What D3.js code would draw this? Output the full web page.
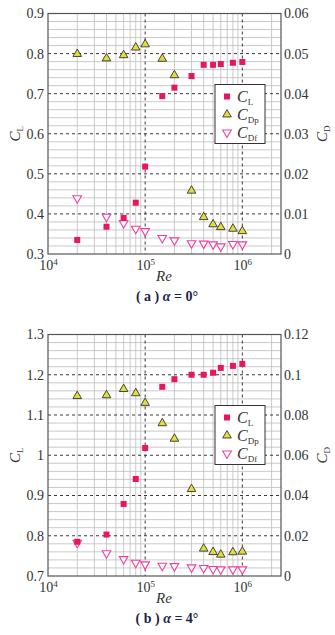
<!DOCTYPE html>
<html>
<head>
<meta charset="utf-8">
<script src="https://cdn.jsdelivr.net/npm/d3@7"></script>
<style>
body { margin: 0; background: #fff; }
svg text { font-family: "Liberation Serif", "Times New Roman", Times, serif !important; }
</style>
</head>
<body>
<div id="chart"></div>
<script>
// Reynolds numbers (shared by both panels)
const reValues = [2e4, 4e4, 6e4, 8e4, 1e5, 1.5e5, 2e5, 3e5, 4e5, 5e5, 6e5, 8e5, 1e6];

// (a) alpha = 0
const clA  = [0.335, 0.368, 0.390, 0.428, 0.518, 0.694, 0.715, 0.744, 0.772, 0.772, 0.774, 0.777, 0.779];
const cdpA = [0.0499, 0.0488, 0.0496, 0.0515, 0.0523, 0.0487, 0.0446, 0.0158, 0.0092, 0.0074, 0.0067, 0.0063, 0.0057];
const cdfA = [0.0139, 0.0093, 0.0077, 0.0063, 0.0057, 0.0040, 0.0034, 0.0027, 0.0026, 0.0024, 0.0019, 0.0025, 0.0024];

// (b) alpha = 4
const clB  = [0.785, 0.803, 0.879, 0.941, 1.018, 1.170, 1.189, 1.200, 1.200, 1.205, 1.217, 1.222, 1.227];
const cdpB = [0.0894, 0.0898, 0.0929, 0.0908, 0.0860, 0.0759, 0.0682, 0.0432, 0.0136, 0.0119, 0.0106, 0.0118, 0.0121];
const cdfB = [0.0165, 0.0113, 0.0084, 0.0066, 0.0058, 0.0051, 0.0049, 0.0043, 0.0040, 0.0035, 0.0033, 0.0033, 0.0033];

// axis ticks
const clTicksA = [0.3, 0.4, 0.5, 0.6, 0.7, 0.8, 0.9];
const cdTicksA = [0, 0.01, 0.02, 0.03, 0.04, 0.05, 0.06];
const clTicksB = [0.7, 0.8, 0.9, 1.0, 1.1, 1.2, 1.3];
const cdTicksB = [0, 0.02, 0.04, 0.06, 0.08, 0.1, 0.12];
const reTicks  = [1e4, 1e5, 1e6];

const colors = { cl: '#e8175d', cdpFill: '#e3dc3a', cdpStroke: '#333', cdf: '#ef3f9c', caption: '#1d2545' };

const width = 335, height = 635;
const svg = d3.select('#chart').append('svg')
    .attr('width', width)
    .attr('height', height);

const x = d3.scaleLog().domain([1e4, 2.5e6]).range([48, 281]);

//Draw one panel
function drawPanel(p) {
    const g = svg.append('g');
    const y = d3.scaleLinear().domain(p.clDomain).range([p.bottom, p.top]);
    const y2 = d3.scaleLinear().domain(p.cdDomain).range([p.bottom, p.top]);
    const [x0, x1] = x.range();

    // minor grid
    const minorX = x.ticks().filter(d => !reTicks.includes(d));
    g.selectAll('.mx').data(minorX).join('line')
        .attr('x1', d => x(d)).attr('x2', d => x(d))
        .attr('y1', p.top).attr('y2', p.bottom)
        .attr('stroke', '#bdbdbd').attr('stroke-width', 0.8);
    const minorY = y.ticks(30).filter(d => Math.abs(d * 10 - Math.round(d * 10)) > 1e-6);
    g.selectAll('.my').data(minorY).join('line')
        .attr('x1', x0).attr('x2', x1)
        .attr('y1', d => y(d)).attr('y2', d => y(d))
        .attr('stroke', '#bdbdbd').attr('stroke-width', 0.8);

    // major dashed grid
    g.selectAll('.gx').data(reTicks.slice(1)).join('line')
        .attr('x1', d => x(d)).attr('x2', d => x(d))
        .attr('y1', p.top).attr('y2', p.bottom)
        .attr('stroke', '#222').attr('stroke-width', 0.9).attr('stroke-dasharray', '3,3');
    g.selectAll('.gy').data(p.clTicks.slice(1, -1)).join('line')
        .attr('x1', x0).attr('x2', x1)
        .attr('y1', d => y(d)).attr('y2', d => y(d))
        .attr('stroke', '#222').attr('stroke-width', 0.9).attr('stroke-dasharray', '3,3');

    // frame
    g.append('rect')
        .attr('x', x0).attr('y', p.top)
        .attr('width', x1 - x0).attr('height', p.bottom - p.top)
        .attr('fill', 'none').attr('stroke', '#555').attr('stroke-width', 1.2);

    // axes
    const left = g.append('g').attr('transform', `translate(${x0},0)`)
        .call(d3.axisLeft(y).tickValues(p.clTicks).tickSize(0).tickPadding(4)
            .tickFormat(d => d === 1 ? '1' : d3.format('.1f')(d)));
    const right = g.append('g').attr('transform', `translate(${x1},0)`)
        .call(d3.axisRight(y2).tickValues(p.cdTicks).tickSize(0).tickPadding(3)
            .tickFormat(d => d === 0 ? '0' : String(+d.toFixed(2))));
    const bottom = g.append('g').attr('transform', `translate(0,${p.bottom})`)
        .call(d3.axisBottom(x).tickValues(reTicks).tickSize(0).tickPadding(6).tickFormat(''));
    [left, right, bottom].forEach(a => {
        a.select('.domain').remove();
        a.attr('font-family', null);
        a.selectAll('text').style('font-size', '14px').attr('fill', '#333');
    });
    bottom.selectAll('.tick text').each(function (d) {
        const t = d3.select(this);
        t.append('tspan').text('10');
        t.append('tspan').text(Math.round(Math.log10(d))).attr('dy', -5).style('font-size', '9px');
    });

    // axis titles
    const mid = (p.top + p.bottom) / 2;
    const clT = g.append('text')
        .attr('transform', `translate(20,${mid}) rotate(-90)`)
        .attr('text-anchor', 'middle').attr('fill', '#333').style('font-size', '15px');
    clT.append('tspan').text('C').style('font-style', 'italic');
    clT.append('tspan').text('L').attr('dy', 3).style('font-size', '9px');
    const cdT = g.append('text')
        .attr('transform', `translate(327,${mid}) rotate(-90)`)
        .attr('text-anchor', 'middle').attr('fill', '#333').style('font-size', '15px');
    cdT.append('tspan').text('C').style('font-style', 'italic');
    cdT.append('tspan').text('D').attr('dy', 3).style('font-size', '9px');

    g.append('text')
        .attr('x', 164).attr('y', p.bottom + 27)
        .attr('text-anchor', 'middle').attr('fill', '#333')
        .style('font-size', '15px').style('font-style', 'italic')
        .text('Re');

    // markers
    const tri = d3.symbol().type(d3.symbolTriangle).size(32);
    g.selectAll('.cdf').data(p.cdf).join('path')
        .attr('d', tri)
        .attr('transform', (d, i) => `translate(${x(reValues[i])},${y2(d)}) rotate(180)`)
        .attr('fill', '#fff').attr('stroke', colors.cdf).attr('stroke-width', 1.1);
    g.selectAll('.cdp').data(p.cdp).join('path')
        .attr('d', tri)
        .attr('transform', (d, i) => `translate(${x(reValues[i])},${y2(d)})`)
        .attr('fill', colors.cdpFill).attr('stroke', colors.cdpStroke).attr('stroke-width', 0.9);
    g.selectAll('.cl').data(p.cl).join('rect')
        .attr('x', (d, i) => x(reValues[i]) - 3)
        .attr('y', d => y(d) - 3)
        .attr('width', 6).attr('height', 6)
        .attr('fill', colors.cl);

    // legend
    const lg = g.append('g').attr('transform', `translate(215,${p.top + 71})`);
    lg.append('rect').attr('width', 50).attr('height', 59)
        .attr('fill', '#fff').attr('stroke', '#333').attr('stroke-width', 1);
    const items = [
        { sub: 'L', kind: 'cl' },
        { sub: 'Dp', kind: 'cdp' },
        { sub: 'Df', kind: 'cdf' }
    ];
    items.forEach((it, i) => {
        const cy = 12 + i * 18;
        if (it.kind === 'cl') {
            lg.append('rect').attr('x', 9).attr('y', cy - 3).attr('width', 6).attr('height', 6).attr('fill', colors.cl);
        } else if (it.kind === 'cdp') {
            lg.append('path').attr('d', tri).attr('transform', `translate(12,${cy})`)
                .attr('fill', colors.cdpFill).attr('stroke', colors.cdpStroke).attr('stroke-width', 0.9);
        } else {
            lg.append('path').attr('d', tri).attr('transform', `translate(12,${cy}) rotate(180)`)
                .attr('fill', '#fff').attr('stroke', colors.cdf).attr('stroke-width', 1.1);
        }
        const t = lg.append('text').attr('x', 22).attr('y', cy + 5).attr('fill', '#333').style('font-size', '16px');
        t.append('tspan').text('C').style('font-style', 'italic');
        t.append('tspan').text(it.sub).attr('dy', 3).style('font-size', '9px');
    });

    // caption
    const cap = g.append('text')
        .attr('x', 167).attr('y', p.bottom + 47)
        .attr('text-anchor', 'middle').attr('fill', colors.caption)
        .style('font-size', '14px').style('font-weight', 'bold');
    cap.append('tspan').text('( ' + p.label + ' )  ');
    cap.append('tspan').text('α').style('font-style', 'italic');
    cap.append('tspan').text(' = ' + p.alpha + '°');
}

drawPanel({
    top: 13.5, bottom: 254, clDomain: [0.3, 0.9], cdDomain: [0, 0.06],
    clTicks: clTicksA, cdTicks: cdTicksA,
    cl: clA, cdp: cdpA, cdf: cdfA, label: 'a', alpha: 0
});
drawPanel({
    top: 334.5, bottom: 576, clDomain: [0.7, 1.3], cdDomain: [0, 0.12],
    clTicks: clTicksB, cdTicks: cdTicksB,
    cl: clB, cdp: cdpB, cdf: cdfB, label: 'b', alpha: 4
});
</script>
</body>
</html>
